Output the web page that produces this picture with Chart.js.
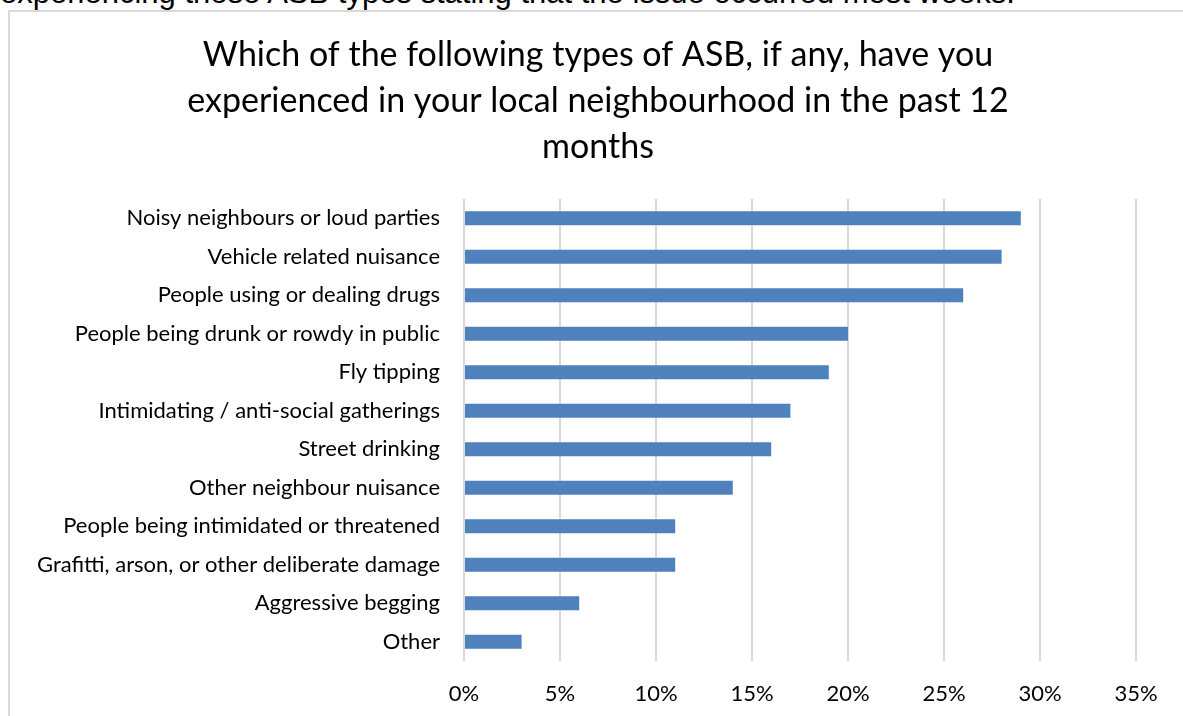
<!DOCTYPE html>
<html>
<head>
<meta charset="utf-8">
<script src="https://cdn.jsdelivr.net/npm/chart.js@4"></script>
<style>
  html, body { margin: 0; padding: 0; width: 1183px; height: 716px; overflow: hidden; background: #fff; }
  #caption { position: absolute; left: 0; top: -23px; line-height: 32px; font-family: "Liberation Sans", Arial, sans-serif; font-size: 31px; color: #000; white-space: nowrap; }
  #frame { position: absolute; left: 8px; top: 10px; width: 1300px; height: 800px; border-left: 2px solid #d9d9d9; border-top: 2px solid #d9d9d9; }
  #wrap { position: absolute; left: 0; top: 0; width: 1183px; height: 716px; }
</style>
</head>
<body>
<div id="caption">experiencing these ASB types stating that the issue occurred most weeks.</div>
<div id="frame"></div>
<div id="wrap"><canvas id="c" width="1183" height="716"></canvas></div>
<script>
const categories = [
  "Noisy neighbours or loud parties",
  "Vehicle related nuisance",
  "People using or dealing drugs",
  "People being drunk or rowdy in public",
  "Fly tipping",
  "Intimidating / anti-social gatherings",
  "Street drinking",
  "Other neighbour nuisance",
  "People being intimidated or threatened",
  "Grafitti, arson, or other deliberate damage",
  "Aggressive begging",
  "Other"
];
const values = [29, 28, 26, 20, 19, 17, 16, 14, 11, 11, 6, 3];
const titleLines = [
  "Which of the following types of ASB, if any, have you",
  "experienced in your local neighbourhood in the past 12",
  "months"
];
const FONT = "Lato, 'Open Sans', sans-serif";

const titleShift = {
  id: 'titleShift',
  afterLayout(chart) {
    if (chart.titleBlock) {
      chart.titleBlock.left = 60;
      chart.titleBlock.right = 1136;
      chart.titleBlock.width = 1076;
    }
  }
};

new Chart(document.getElementById('c'), {
  type: 'bar',
  data: {
    labels: categories,
    datasets: [{
      data: values,
      backgroundColor: '#4f81bd',
      borderWidth: 0,
      barPercentage: 0.72,
      categoryPercentage: 0.5
    }]
  },
  plugins: [titleShift],
  options: {
    indexAxis: 'y',
    responsive: false,
    animation: false,
    layout: { padding: { left: 0, right: 47, top: 0, bottom: 0 } },
    plugins: {
      legend: { display: false },
      tooltip: { enabled: false },
      title: {
        display: true,
        text: titleLines,
        color: '#000',
        font: { family: FONT, size: 34, weight: 'normal', lineHeight: 1.353 },
        padding: { top: 32, bottom: 29 }
      }
    },
    scales: {
      x: {
        min: 0, max: 35,
        ticks: {
          stepSize: 5,
          color: '#000',
          padding: 20,
          font: { family: FONT, size: 22 },
          callback: v => v + '%'
        },
        grid: { color: '#d9d9d9', lineWidth: 2, drawTicks: false },
        border: { display: false },
        afterFit: s => { s.height = 55; }
      },
      y: {
        ticks: {
          color: '#000',
          padding: 24,
          font: { family: FONT, size: 22 }
        },
        grid: { display: false, drawTicks: false },
        border: { display: false },
        afterFit: s => { s.width = 464; }
      }
    }
  }
});
</script>
</body>
</html>
